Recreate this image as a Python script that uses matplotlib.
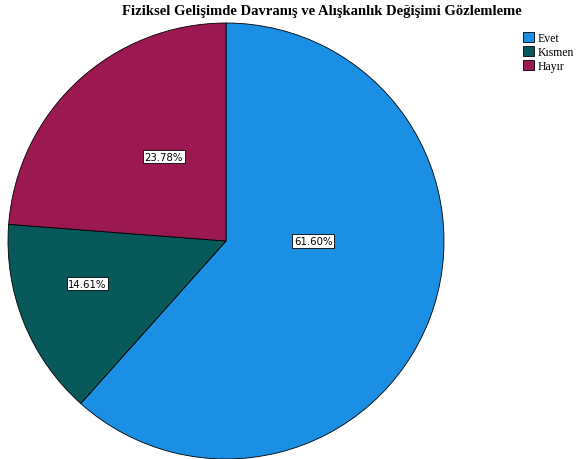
import matplotlib
matplotlib.use("Agg")
import matplotlib.pyplot as plt
import numpy as np
from matplotlib.patches import Patch

categories = ["Evet", "Kısmen", "Hayır"]
values = [61.60, 14.61, 23.78]
colors = ["#1b8fe4", "#07595a", "#9c1850"]
title = "Fiziksel Gelişimde Davranış ve Alışkanlık Değişimi Gözlemleme"

# label placement (radius fraction, angle in degrees)
label_r = [0.40, 0.665, 0.48]
label_ang = [0.0, -162.8, 126.4]

fig = plt.figure(figsize=(5.79, 4.60), dpi=100)
ax = fig.add_axes([8/579, 0.0, 436/579, 436/460])
wedges, texts = ax.pie(values, colors=colors, startangle=90, counterclock=False,
                       wedgeprops=dict(edgecolor="black", linewidth=0.6))
for v, r, a in zip(values, label_r, label_ang):
    ax.text(r*np.cos(np.radians(a)), r*np.sin(np.radians(a)), f"{v:.2f}%",
            ha="center", va="center", fontsize=7.3, family="DejaVu Sans",
            bbox=dict(facecolor="white", edgecolor="black", linewidth=0.6, boxstyle="square,pad=0.15"))
ax.set_xlim(-1, 1)
ax.set_ylim(-1, 1)
ax.set_aspect("equal")

fig.text(322/579, 1 - 11/460, title, ha="center", va="center",
         family="Liberation Serif", fontweight="bold", fontsize=10.5)

handles = [Patch(facecolor=c, edgecolor="black", linewidth=0.6, label=l) for c, l in zip(colors, categories)]
leg = fig.legend(handles=handles, loc="upper left", bbox_to_anchor=(515/579, 1 - 25/460),
                 frameon=False, prop=dict(family="Liberation Serif", size=8.5),
                 handlelength=0.9, handleheight=0.9, handletextpad=0.3, labelspacing=0.15,
                 borderpad=0.2)

fig.savefig("out.png", dpi=100)
